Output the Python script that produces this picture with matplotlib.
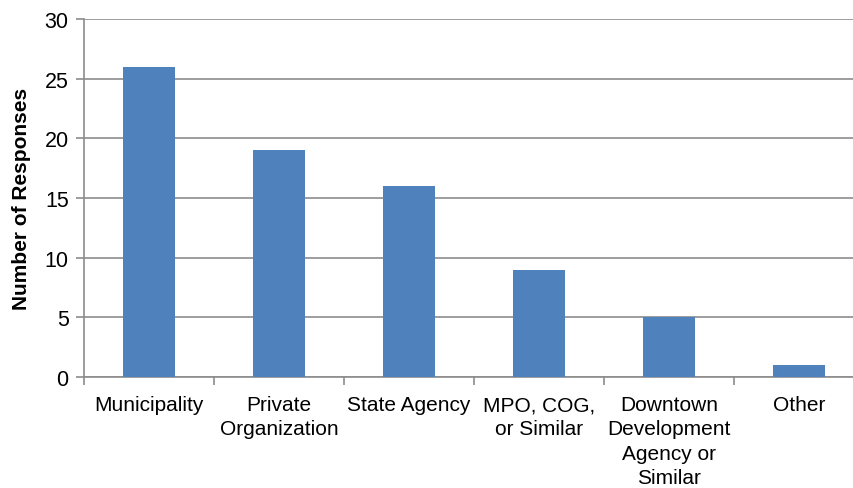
import matplotlib.pyplot as plt

categories = ["Municipality", "Private\nOrganization", "State Agency", "MPO, COG,\nor Similar",
              "Downtown\nDevelopment\nAgency or\nSimilar", "Other"]
responses = [26, 19, 16, 9, 5, 1]
yticks = [0, 5, 10, 15, 20, 25, 30]

plt.rcParams['font.family'] = ['Liberation Sans', 'DejaVu Sans']

fig = plt.figure(figsize=(8.54, 4.89), dpi=100)
ax = fig.add_axes([84 / 854, 1 - 378 / 489, 780 / 854, 358 / 489])

x = range(len(categories))
ax.bar(x, responses, width=0.4, color="#4F81BD", zorder=3)

ax.set_xlim(-0.5, len(categories) - 0.5)
ax.set_ylim(0, 30)
ax.set_yticks(yticks)
ax.yaxis.grid(True, color="#8c8c8c", linewidth=1.2, zorder=0)

ax.set_xticks([i - 0.5 for i in range(len(categories) + 1)])
ax.set_xticklabels([])
ax.set_xticks(list(x), minor=True)
ax.set_xticklabels(categories, minor=True, fontsize=15, linespacing=1.36, va="top")
ax.tick_params(axis="x", which="minor", length=0, pad=13)
ax.tick_params(axis="x", which="major", length=6, color="#8c8c8c", width=1.2)
ax.tick_params(axis="y", length=6, color="#8c8c8c", width=1.2, labelsize=15.5, pad=5)

for s in ["top", "right"]:
    ax.spines[s].set_visible(False)
for s in ["left", "bottom"]:
    ax.spines[s].set_color("#8c8c8c")
    ax.spines[s].set_linewidth(1.2)

ax.set_ylabel("Number of Responses", fontsize=15, fontweight="bold", labelpad=10)

fig.savefig("out.png", dpi=100)
